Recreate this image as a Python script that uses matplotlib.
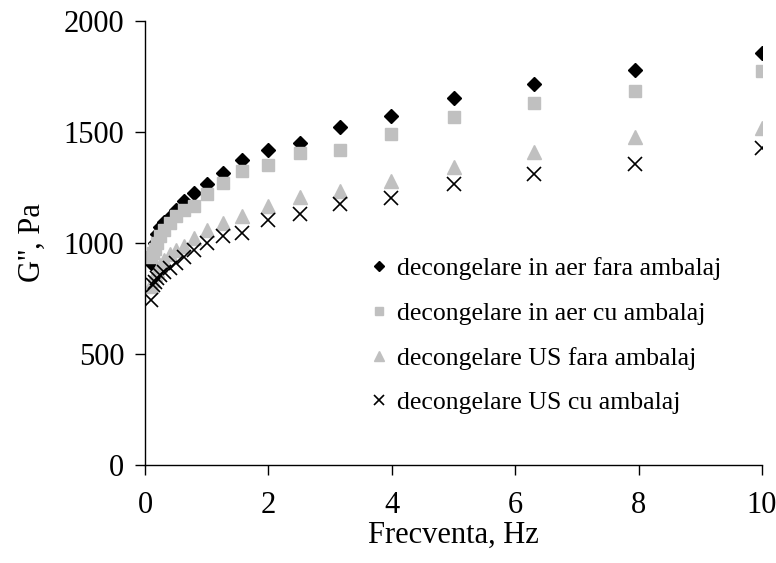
import matplotlib
matplotlib.use("Agg")
import matplotlib.pyplot as plt

freq = [0.1, 0.126, 0.158, 0.2, 0.251, 0.316, 0.398, 0.501, 0.631, 0.794,
        1.0, 1.26, 1.58, 2.0, 2.51, 3.16, 3.98, 5.01, 6.31, 7.94, 10.0]

aer_fara = [910, 960, 1000, 1040, 1070, 1095, 1117, 1149, 1189, 1224,
            1267, 1317, 1374, 1418, 1451, 1524, 1572, 1651, 1715, 1778, 1858]
aer_cu = [935, 955, 975, 1000, 1030, 1060, 1090, 1120, 1150, 1168,
          1219, 1272, 1324, 1350, 1406, 1421, 1493, 1566, 1629, 1685, 1775]
us_fara = [805, 835, 860, 880, 900, 925, 950, 970, 985, 1021,
           1059, 1089, 1122, 1167, 1209, 1236, 1281, 1344, 1409, 1479, 1517]
us_cu = [743, 811, 826, 841, 856, 871, 886, 911, 938, 968,
         1001, 1032, 1046, 1104, 1131, 1176, 1201, 1266, 1311, 1354, 1427]

labels = ["decongelare in aer fara ambalaj", "decongelare in aer cu ambalaj",
          "decongelare US fara ambalaj", "decongelare US cu ambalaj"]

plt.rcParams['font.family'] = ['Liberation Serif', 'DejaVu Serif']

fig = plt.figure(figsize=(7.76, 5.63), dpi=100)
ax = fig.add_axes([145/776, 1-465/563, (762-145)/776, (465-21)/563])

grey = '#C0C0C0'
ax.plot(freq, aer_fara, linestyle='none', marker='D', ms=7.2, color='black', label=labels[0])
ax.plot(freq, aer_cu, linestyle='none', marker='s', ms=8.5, color=grey, label=labels[1])
ax.plot(freq, us_fara, linestyle='none', marker='^', ms=10, color=grey, label=labels[2])
ax.plot(freq, us_cu, linestyle='none', marker='x', ms=9.5, mew=1.2, color='black', label=labels[3])

ax.set_xlim(0, 10)
ax.set_ylim(0, 2000)
ax.set_xticks([0, 2, 4, 6, 8, 10])
ax.set_yticks([0, 500, 1000, 1500, 2000])
for s in ['top', 'right']:
    ax.spines[s].set_visible(False)
for s in ['left', 'bottom']:
    ax.spines[s].set_linewidth(1.0)
ax.tick_params(direction='out', length=7, width=1.0, labelsize=22, pad=8)
ax.tick_params(axis='x', pad=12)
ax.set_xlabel('Frecventa, Hz', fontsize=22, labelpad=0)
ax.set_ylabel("G'', Pa", fontsize=22, labelpad=12)

leg = ax.legend(loc='upper left', bbox_to_anchor=(371/776, 1-257/563), bbox_transform=fig.transFigure,
                frameon=False, fontsize=18.5, markerscale=0.75, handlelength=0.6,
                handletextpad=0.4, labelspacing=0.85, borderpad=0, borderaxespad=0)

fig.savefig('out.png', dpi=100)
